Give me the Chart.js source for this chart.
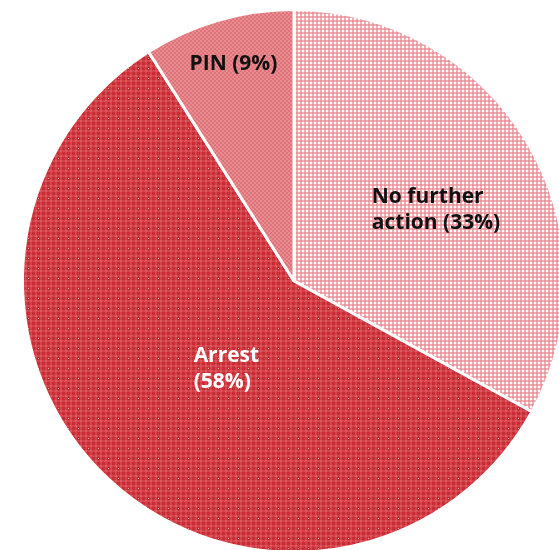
<!DOCTYPE html>
<html>
<head>
<meta charset="utf-8">
<title>Outcomes</title>
<script src="https://cdn.jsdelivr.net/npm/chart.js@4.4.1/dist/chart.umd.min.js"></script>
<style>
  html, body { margin: 0; padding: 0; background: #fff; overflow: hidden; }
  #wrap { position: relative; width: 559px; height: 550px; overflow: hidden; }
  #outcomeChart { position: absolute; left: 0; top: 0; }
</style>
</head>
<body>
<div id="wrap">
  <canvas id="outcomeChart" width="588" height="562"></canvas>
</div>
<script>
// Categories and shares (%)
var categories = ['No further action', 'Arrest', 'PIN'];
var shares = [33, 58, 9];
// words on the first line of each label (0 = single line)
var labelBreak = [2, 1, 0];

// label placement: fraction of radius and small angle nudge (degrees)
var labelPos = [
    { r: 0.585, nudge: 4 },
    { r: 0.41, nudge: -5.8 },
    { r: 0.83, nudge: 0.6 }
];
var labelColors = ['#111111', '#ffffff', '#111111'];

// Small tiled textures for the slices
function makePattern(size, draw) {
    var c = document.createElement('canvas');
    c.width = size; c.height = size;
    var g = c.getContext('2d');
    draw(g, size);
    return g.createPattern(c, 'repeat');
}

var ctx = document.getElementById('outcomeChart').getContext('2d');

// light pink grid on white
var nfaPattern = makePattern(4, function (g) {
    g.fillStyle = '#ffffff'; g.fillRect(0, 0, 4, 4);
    g.fillStyle = '#f2aeb4'; g.fillRect(0, 0, 4, 2); g.fillRect(0, 0, 2, 4);
    g.fillStyle = '#ea939b'; g.fillRect(0, 0, 2, 2);
});

// red tartan with sparse light dots
var arrestPattern = makePattern(10, function (g) {
    g.fillStyle = '#c92c35'; g.fillRect(0, 0, 10, 10);
    g.fillStyle = '#d4434a';
    g.fillRect(0, 0, 10, 2); g.fillRect(0, 5, 10, 2);
    g.fillRect(0, 0, 2, 10); g.fillRect(5, 0, 2, 10);
    g.fillStyle = '#dc585e';
    g.fillRect(0, 0, 2, 2); g.fillRect(5, 5, 2, 2); g.fillRect(0, 5, 2, 2); g.fillRect(5, 0, 2, 2);
    g.fillStyle = '#f2aeb2'; g.fillRect(8, 8, 1, 1);
});

// mid pink fine checker
var pinPattern = makePattern(4, function (g) {
    g.fillStyle = '#de7379'; g.fillRect(0, 0, 4, 4);
    g.fillStyle = '#e88c92'; g.fillRect(0, 0, 2, 2); g.fillRect(2, 2, 2, 2);
});

function labelLines(i) {
    var words = (categories[i] + ' (' + shares[i] + '%)').split(' ');
    var n = labelBreak[i];
    if (!n) return [words.join(' ')];
    return [words.slice(0, n).join(' '), words.slice(n).join(' ')];
}

// draws the category labels inside the slices
var sliceLabels = {
    id: 'sliceLabels',
    afterDatasetsDraw: function (chart) {
        var c = chart.ctx;
        var meta = chart.getDatasetMeta(0);
        c.save();
        c.font = 'bold 21px "Open Sans", Lato, sans-serif';
        c.textAlign = 'left';
        c.textBaseline = 'middle';
        meta.data.forEach(function (arc, i) {
            var p = arc.getProps(['x', 'y', 'startAngle', 'endAngle', 'outerRadius'], true);
            var a = (p.startAngle + p.endAngle) / 2 + labelPos[i].nudge * Math.PI / 180;
            var cx = p.x + Math.cos(a) * p.outerRadius * labelPos[i].r;
            var cy = p.y + Math.sin(a) * p.outerRadius * labelPos[i].r;
            var lines = labelLines(i);
            var w = 0;
            lines.forEach(function (l) { w = Math.max(w, c.measureText(l).width); });
            var lh = 26;
            var top = cy - (lines.length - 1) * lh / 2;
            c.fillStyle = labelColors[i];
            lines.forEach(function (l, k) {
                c.fillText(l, cx - w / 2, top + k * lh);
            });
        });
        c.restore();
    }
};

var outcomeChart = new Chart(ctx, {
    type: 'pie',
    data: {
        labels: categories,
        datasets: [{
            data: shares,
            backgroundColor: [nfaPattern, arrestPattern, pinPattern],
            borderColor: '#ffffff',
            borderWidth: 3,
            hoverOffset: 0
        }]
    },
    options: {
        responsive: false,
        devicePixelRatio: 1,
        animation: false,
        layout: { padding: 8 },
        plugins: {
            legend: { display: false },
            tooltip: { enabled: false }
        }
    },
    plugins: [sliceLabels]
});
</script>
</body>
</html>
